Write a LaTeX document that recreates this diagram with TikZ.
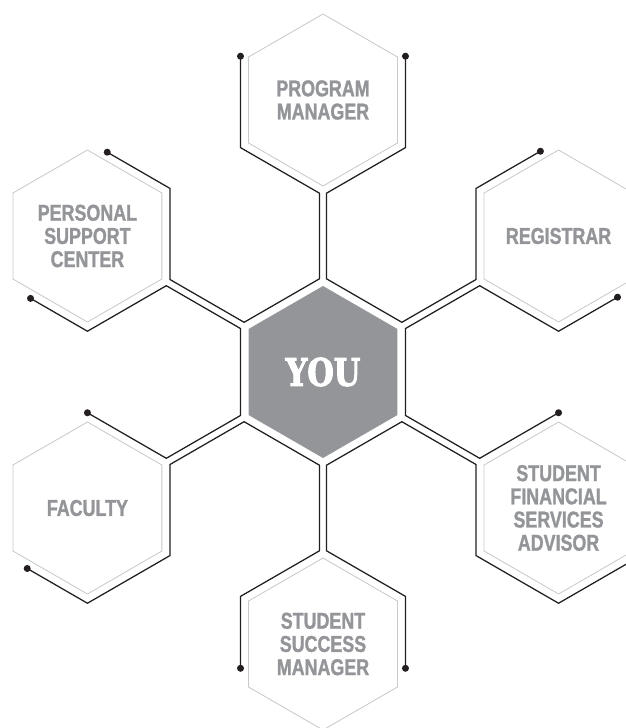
\documentclass[tikz,border=0pt]{standalone}
\usepackage{fontspec}
\newfontfamily\labelfont{Liberation Sans Bold}[FakeStretch=0.78,FakeBold=1.3]
\newfontfamily\youfont{DejaVu Serif Bold}[FakeStretch=0.8,FakeBold=2.5]
\usetikzlibrary{shapes.geometric,calc}

\definecolor{wirecol}{HTML}{231F20}
\definecolor{hexline}{HTML}{C8C9CB}
\definecolor{labelgrey}{HTML}{939598}

\begin{document}
\begin{tikzpicture}[
  sat/.style={regular polygon, regular polygon sides=6, shape border rotate=30,
    minimum size=4.3cm, inner sep=0pt, draw=hexline, line width=0.6pt,
    text=labelgrey, align=center, font=\labelfont\fontsize{16.3}{16.5}\selectfont},
  youhex/.style={regular polygon, regular polygon sides=6, shape border rotate=30,
    minimum size=4.3cm, inner sep=0pt, fill=labelgrey, text=white,
    font=\youfont\fontsize{27}{27}\selectfont},
  wire/.style={draw=wirecol, line width=0.9pt, line join=miter},
]
\useasboundingbox (-8.075,-8.9) rectangle (7.575,9.3);

% the hexagons
\node[youhex] (you) at (0,0) {YOU};
\node[sat] (pm)  at (90:6.8)  {PROGRAM\\MANAGER};
\node[sat] (psc) at (150:6.8) {PERSONAL\\SUPPORT\\CENTER};
\node[sat] (reg) at (30:6.8)  {REGISTRAR};
\node[sat] (fac) at (210:6.8) {FACULTY};
\node[sat] (sfs) at (330:6.8) {STUDENT\\FINANCIAL\\SERVICES\\ADVISOR};
\node[sat] (ssm) at (270:6.8) {STUDENT\\SUCCESS\\MANAGER};

% corner points for the wires, worked out along each spoke
\foreach \n/\a in {reg/30,pm/90,psc/150,fac/210,ssm/270,sfs/330}{
  \begin{scope}[rotate=\a]
    \coordinate (\n-c1p) at (2.329,0.09);
    \coordinate (\n-c1m) at (2.329,-0.09);
    \coordinate (\n-c2p) at (4.471,0.09);
    \coordinate (\n-c2m) at (4.471,-0.09);
    \coordinate (\n-p1) at (5.6095,2.062);
    \coordinate (\n-p2) at (7.9905,2.062);
    \coordinate (\n-p3) at (9.181,0);
    \coordinate (\n-m1) at (5.6095,-2.062);
    \coordinate (\n-m2) at (7.9905,-2.062);
    \coordinate (\n-m3) at (9.181,0);
  \end{scope}
}

% where the wires stop
\coordinate (reg-ep) at ($(reg-p1)!0.78!(reg-p2)$);
\coordinate (reg-em) at ($(reg-m1)!0.715!(reg-m2)$);
\coordinate (pm-ep)  at ($(pm-p1)!0.96!(pm-p2)$);
\coordinate (pm-em)  at ($(pm-m1)!0.96!(pm-m2)$);
\coordinate (psc-ep) at ($(psc-p1)!0.69!(psc-p2)$);
\coordinate (psc-em) at ($(psc-m1)!0.76!(psc-m2)$);
\coordinate (fac-ep) at ($(fac-p2)!0.73!(fac-p3)$);
\coordinate (fac-em) at (fac-m1);
\coordinate (ssm-ep) at ($(ssm-p1)!0.755!(ssm-p2)$);
\coordinate (ssm-em) at ($(ssm-m1)!0.755!(ssm-m2)$);
\coordinate (sfs-ep) at (sfs-p1);
\coordinate (sfs-em) at ($(sfs-m2)!0.9!(sfs-m3)$);

% one wire per side of YOU
\draw[wire] (reg-ep) -- (reg-p1) -- (reg-c2p) -- (reg-c1p) -- (pm-c1m) -- (pm-c2m) -- (pm-m1) -- (pm-em);
\draw[wire] (pm-ep) -- (pm-p1) -- (pm-c2p) -- (pm-c1p) -- (psc-c1m) -- (psc-c2m) -- (psc-m1) -- (psc-em);
\draw[wire] (psc-ep) -- (psc-p1) -- (psc-c2p) -- (psc-c1p) -- (fac-c1m) -- (fac-c2m) -- (fac-em);
\draw[wire] (fac-ep) -- (fac-p2) -- (fac-p1) -- (fac-c2p) -- (fac-c1p) -- (ssm-c1m) -- (ssm-c2m) -- (ssm-m1) -- (ssm-em);
\draw[wire] (ssm-ep) -- (ssm-p1) -- (ssm-c2p) -- (ssm-c1p) -- (sfs-c1m) -- (sfs-c2m) -- (sfs-m1) -- (sfs-m2) -- (sfs-em);
\draw[wire] (sfs-ep) -- (sfs-c2p) -- (sfs-c1p) -- (reg-c1m) -- (reg-c2m) -- (reg-m1) -- (reg-em);

% end dots
\foreach \n in {reg,pm,psc,fac,ssm,sfs}
  \fill[wirecol] (\n-ep) circle (2.5pt) (\n-em) circle (2.5pt);

\end{tikzpicture}
\end{document}
